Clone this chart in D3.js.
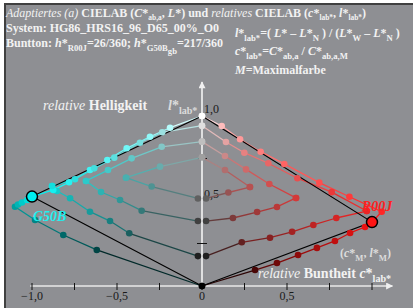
<!DOCTYPE html>
<meta charset="utf-8">
<script src="https://d3js.org/d3.v7.min.js"></script>
<style>
  body { margin: 0; background: #fff; }
  text { font-family: "Liberation Serif", "Times New Roman", serif; }
</style>
<div id="chart"></div>
<script>

// relative CIELAB (c*lab*, l*lab*), hue R00J (c > 0)
// rows of constant whiteness (from the gray axis down to N-M side)
var redW0 = [[0,0],[0.312,0.094],[0.441,0.135],[0.565,0.182],[0.676,0.224],[0.782,0.265],[0.871,0.312],[0.959,0.347],[1.0,0.376]];
var redW1 = [[0.024,0.176],[0.234,0.257],[0.40,0.284],[0.53,0.319],[0.655,0.359],[0.79,0.40],[0.969,0.441]];
var redW2 = [[0.024,0.382],[0.182,0.40],[0.324,0.435],[0.441,0.465],[0.553,0.518]];
var redW3 = [[0.024,0.515],[0.155,0.55],[0.282,0.582]];
// rows of constant blackness (from the gray axis down to W-M side)
var redS0 = [[0,1.0],[0.116,0.941],[0.224,0.863],[0.345,0.79],[0.484,0.718],[0.69,0.608],[0.867,0.525],[1.057,0.437],[1.0,0.376]];
var redS1 = [[0,0.943],[0.141,0.847],[0.249,0.784],[0.39,0.722],[0.561,0.634],[0.763,0.552],[0.969,0.441]];
var redS2 = [[0,0.849],[0.135,0.765],[0.259,0.686],[0.396,0.60],[0.553,0.518]];
var redS3 = [[0,0.757],[0.135,0.682],[0.282,0.582]];

// hue G50B (c < 0)
var cyanW0 = [[0,0],[-0.619,0.212],[-0.816,0.30],[-0.982,0.388],[-1.10,0.466],[-1.082,0.479],[-1.059,0.491],[-1.029,0.506],[-1.0,0.526]];
var cyanW1 = [[-0.024,0.176],[-0.428,0.31],[-0.541,0.382],[-0.659,0.437],[-0.776,0.516],[-0.853,0.559],[-0.882,0.588]];
var cyanW2 = [[-0.024,0.382],[-0.355,0.443],[-0.482,0.506],[-0.594,0.553],[-0.682,0.618]];
var cyanW3 = [[-0.024,0.515],[-0.296,0.585],[-0.447,0.637]];
var cyanS0 = [[0,1.0],[-0.188,0.931],[-0.306,0.878],[-0.443,0.81],[-0.557,0.741],[-0.659,0.682],[-0.782,0.61],[-0.875,0.565],[-1.0,0.526]];
var cyanS1 = [[0,0.943],[-0.234,0.904],[-0.365,0.843],[-0.516,0.755],[-0.634,0.692],[-0.747,0.628],[-0.882,0.588]];
var cyanS2 = [[0,0.849],[-0.237,0.819],[-0.414,0.751],[-0.553,0.682],[-0.682,0.618]];
var cyanS3 = [[0,0.757],[-0.247,0.702],[-0.447,0.637]];

// maximal colours M
var redM = [1.0, 0.376];
var cyanM = [-1.0, 0.526];

var xTicks = [-1, -0.75, -0.5, -0.25, 0, 0.25, 0.5, 0.75, 1];
var xTickLabels = ["\u22121,0", "", "\u22120,5", "", "0", "", "0,5", "", ""];
var yTicks = [0.25, 0.75];
var yLabelValues = [1.0, 0.5];
var yLabels = ["1,0", "0,5"];

var W = 413, H = 308;
var svg = d3.select("#chart").append("svg").attr("width", W).attr("height", H);

svg.append("rect").attr("x", 5).attr("y", 4).attr("width", 420).attr("height", 320)
  .attr("fill", "#8e8f93").attr("stroke", "#404040").attr("stroke-width", 2);

var x = d3.scaleLinear().domain([-1, 1]).range([32, 372]);
var y = d3.scaleLinear().domain([0, 1]).range([286, 116]);

// axes
var defs = svg.append("defs");
defs.append("marker").attr("id", "arr").attr("viewBox", "0 0 10 10")
  .attr("refX", 9).attr("refY", 5).attr("markerWidth", 9).attr("markerHeight", 7)
  .attr("markerUnits", "userSpaceOnUse").attr("orient", "auto")
  .append("path").attr("d", "M0,0L10,5L0,10z").attr("fill", "#f0f0f0");

svg.append("line").attr("x1", x(-1.01)).attr("x2", x(1.12)).attr("y1", y(0)).attr("y2", y(0))
  .attr("stroke", "#e8e8e8").attr("stroke-width", 1.6).attr("marker-end", "url(#arr)");
svg.append("line").attr("x1", x(0)).attr("x2", x(0)).attr("y1", y(0)).attr("y2", y(1.2))
  .attr("stroke", "#f4f4f4").attr("stroke-width", 1.6).attr("marker-end", "url(#arr)");

svg.selectAll(".xt").data(xTicks).enter().append("line")
  .attr("x1", d => x(d)).attr("x2", d => x(d))
  .attr("y1", y(0) - 3).attr("y2", y(0) + 4)
  .attr("stroke", "#111").attr("stroke-width", 1);
svg.selectAll(".xl").data(xTicks).enter().append("text")
  .attr("x", d => x(d)).attr("y", 300).attr("text-anchor", "middle")
  .attr("font-size", 12).attr("fill", "#1a1a1a")
  .text((d, i) => xTickLabels[i]);

svg.selectAll(".yt").data(yTicks).enter().append("line")
  .attr("x1", x(0) - 5).attr("x2", x(0) + 5)
  .attr("y1", d => y(d)).attr("y2", d => y(d))
  .attr("stroke", "#111").attr("stroke-width", 1);
svg.selectAll(".yl").data(yLabelValues).enter().append("text")
  .attr("x", x(0) + 2).attr("y", d => y(d) - 3)
  .attr("font-size", 12).attr("fill", "#1a1a1a")
  .text((d, i) => yLabels[i]);

// colour of a grid point: gray of the row mixed with the maximal colour (8 steps)
function mix(w, k, mc) {
  var s = 8 - w - k;
  var g = (w + s) > 0 ? 255 * w / (w + s) : 0;
  var t = Math.pow(k / 8, 0.6);
  return d3.rgb(Math.round(g * (1 - t) + mc[0] * t),
                Math.round(g * (1 - t) + mc[1] * t),
                Math.round(g * (1 - t) + mc[2] * t)).formatHex();
}
var redRGB = [255, 20, 20], cyanRGB = [0, 240, 240];

function rowData(row, fixed, n, mc) {
  // fixed "w": whiteness stays n; fixed "s": whiteness = 8 - n - k
  return row.map(function(p, k) {
    var w = fixed === "w" ? n : 8 - n - k;
    return {c: p[0], l: p[1], col: mix(w, k, mc)};
  });
}

var rows = [
  rowData(redW0, "w", 0, redRGB), rowData(redW1, "w", 1, redRGB),
  rowData(redW2, "w", 2, redRGB), rowData(redW3, "w", 3, redRGB),
  rowData(redS0, "s", 0, redRGB), rowData(redS1, "s", 1, redRGB),
  rowData(redS2, "s", 2, redRGB), rowData(redS3, "s", 3, redRGB),
  rowData(cyanW0, "w", 0, cyanRGB), rowData(cyanW1, "w", 1, cyanRGB),
  rowData(cyanW2, "w", 2, cyanRGB), rowData(cyanW3, "w", 3, cyanRGB),
  rowData(cyanS0, "s", 0, cyanRGB), rowData(cyanS1, "s", 1, cyanRGB),
  rowData(cyanS2, "s", 2, cyanRGB), rowData(cyanS3, "s", 3, cyanRGB)
];

// row lines
rows.forEach(function(r) {
  var segs = d3.pairs(r);
  svg.append("g").selectAll("line").data(segs).enter().append("line")
    .attr("x1", d => x(d[0].c)).attr("y1", d => y(d[0].l))
    .attr("x2", d => x(d[1].c)).attr("y2", d => y(d[1].l))
    .attr("stroke", d => d3.interpolateRgb(d[0].col, d[1].col)(0.6))
    .attr("stroke-width", 1.3);
});

// triangles white - M - black
[redM, cyanM].forEach(function(m) {
  svg.append("path")
    .attr("d", d3.line()([[x(0), y(1)], [x(m[0]), y(m[1])], [x(0), y(0)]]))
    .attr("fill", "none").attr("stroke", "#000").attr("stroke-width", 1.1);
});

// points
rows.forEach(function(r) {
  svg.append("g").selectAll("circle").data(r).enter().append("circle")
    .attr("cx", d => x(d.c)).attr("cy", d => y(d.l)).attr("r", 3.3)
    .attr("fill", d => d.col);
});

svg.append("circle").attr("cx", x(redM[0])).attr("cy", y(redM[1])).attr("r", 5.5)
  .attr("fill", "#ff1414").attr("stroke", "#000").attr("stroke-width", 1.5);
svg.append("circle").attr("cx", x(cyanM[0])).attr("cy", y(cyanM[1])).attr("r", 5.5)
  .attr("fill", "#00f0f0").attr("stroke", "#000").attr("stroke-width", 1.5);

// texts
function rich(g, parts, x0, y0, size, fill, subScale) {
  var sc = subScale || 0.72;
  var t = g.append("text").attr("x", x0).attr("y", y0).attr("font-size", size)
    .attr("fill", fill).attr("font-weight", "bold");
  parts.forEach(function(p) {
    var s = t.append("tspan").text(p.t);
    if (p.i) s.attr("font-style", "italic");
    if (p.n) s.attr("font-weight", "normal");
    if (p.sub) s.attr("font-size", size * sc).attr("dy", p.sub);
    if (p.up) s.attr("dy", p.up);
  });
  return t;
}
var tc = "#f2f2f2";
rich(svg, [{t: "Adaptiertes (a)", i: 1, n: 1}, {t: " CIELAB ("}, {t: "C", i: 1}, {t: "*"},
  {t: "ab,a", sub: 3}, {t: ", ", up: -3}, {t: "L", i: 1}, {t: "*) und "},
  {t: "relatives", i: 1, n: 1}, {t: " CIELAB ("}, {t: "c", i: 1}, {t: "*"},
  {t: "lab*", sub: 3}, {t: ", ", up: -3}, {t: "l", i: 1}, {t: "*"}, {t: "lab*", sub: 3},
  {t: ")", up: -3}], 6, 17, 12, tc, 0.62);
rich(svg, [{t: "System: HG86_HRS16_96_D65_00%_O0"}], 6, 32, 12, tc);
rich(svg, [{t: "Buntton: "}, {t: "h", i: 1}, {t: "*"}, {t: "R00J", sub: 4},
  {t: "=26/360; ", up: -4}, {t: "h", i: 1}, {t: "*"}, {t: "G50B", sub: 4},
  {t: "gb", sub: 3}, {t: "=217/360", up: -7}], 6, 47, 12, tc);

rich(svg, [{t: "l", i: 1}, {t: "*"}, {t: "lab*", sub: 4}, {t: "=( ", up: -4}, {t: "L", i: 1},
  {t: "* \u2013 "}, {t: "L", i: 1}, {t: "*"}, {t: "N", sub: 4}, {t: " ) / (", up: -4},
  {t: "L", i: 1}, {t: "*"}, {t: "W", sub: 4}, {t: " \u2013 ", up: -4}, {t: "L", i: 1},
  {t: "*"}, {t: "N", sub: 4}, {t: " )", up: -4}], 235, 37, 12, tc);
rich(svg, [{t: "c", i: 1}, {t: "*"}, {t: "lab*", sub: 4}, {t: "=", up: -4}, {t: "C", i: 1},
  {t: "*"}, {t: "ab,a", sub: 4}, {t: " / ", up: -4}, {t: "C", i: 1}, {t: "*"},
  {t: "ab,a,M", sub: 4}], 235, 55, 12, tc);
rich(svg, [{t: "M", i: 1}, {t: "=Maximalfarbe"}], 235, 74, 12, tc);

rich(svg, [{t: "relative", i: 1, n: 1}, {t: " Helligkeit"}], 43, 110, 14, tc);
rich(svg, [{t: "l", i: 1}, {t: "*"}, {t: "lab*", sub: 4}], 168, 110, 14, "#dcdcdc");
rich(svg, [{t: "relative", i: 1, n: 1}, {t: " Buntheit "}, {t: "c", i: 1}, {t: "*"},
  {t: "lab*", sub: 4}], 258, 278, 14, tc);
rich(svg, [{t: "("}, {t: "c", i: 1}, {t: "*"}, {t: "M", sub: 4}, {t: ", ", up: -4},
  {t: "l", i: 1}, {t: "*"}, {t: "M", sub: 4}, {t: ")", up: -4}], 340, 257, 12, "#dcdcdc");

svg.append("text").attr("x", 362).attr("y", 211).attr("font-size", 14)
  .attr("font-weight", "bold").attr("font-style", "italic").attr("fill", "#ff2020").text("R00J");
svg.append("text").attr("x", 33).attr("y", 221).attr("font-size", 14)
  .attr("font-weight", "bold").attr("font-style", "italic").attr("fill", "#20f0f0").text("G50B");

</script>
